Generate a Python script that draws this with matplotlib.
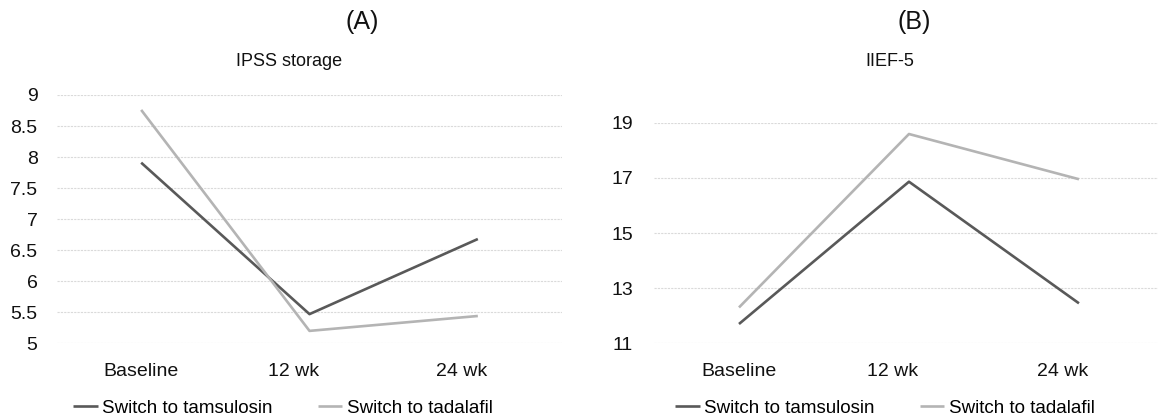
import matplotlib
matplotlib.use("Agg")
import matplotlib.pyplot as plt
import matplotlib.transforms as mtransforms

plt.rcParams['font.family'] = ['Liberation Sans', 'DejaVu Sans']

W, H = 1158, 420

# data
timepoints = ['Baseline', '12 wk', '24 wk']
ipss_tamsulosin = [7.91, 5.47, 6.68]
ipss_tadalafil = [8.76, 5.20, 5.44]
iief_tamsulosin = [11.70, 16.86, 12.45]
iief_tadalafil = [12.30, 18.59, 16.95]
ipss_ticks = [5, 5.5, 6, 6.5, 7, 7.5, 8, 8.5, 9]
ipss_ticklabels = ['5', '5.5', '6', '6.5', '7', '7.5', '8', '8.5', '9']
iief_ticks = [11, 13, 15, 17, 19]
series_names = ['Switch to tamsulosin', 'Switch to tadalafil']

DARK = '#595959'
LIGHT = '#b4b4b4'
GRID = '#dadada'


def px(x0, y0, x1, y1):
    # pixel box -> figure fraction rect
    return [x0 / W, 1 - y1 / H, (x1 - x0) / W, (y1 - y0) / H]


fig = plt.figure(figsize=(W / 100, H / 100), dpi=100)


def panel(rect, xlim, ylim, ticks, ticklabels, tam, tad, ypad, letter, lx, title, tx, legx):
    ax = fig.add_axes(rect)
    x = range(len(timepoints))
    ax.plot(x, tam, color=DARK, lw=1.9, clip_on=False, solid_capstyle='butt', label=series_names[0])
    ax.plot(x, tad, color=LIGHT, lw=1.9, clip_on=False, solid_capstyle='butt', label=series_names[1])
    ax.set_xlim(*xlim)
    ax.set_ylim(*ylim)
    ax.set_yticks(ticks)
    ax.set_yticklabels(ticklabels)
    ax.set_xticks(list(x))
    ax.set_xticklabels(timepoints)
    for t in ticks:
        ax.axhline(t, color=GRID, lw=0.8, ls=(0, (2, 1)), zorder=0)
    for s in ax.spines.values():
        s.set_visible(False)
    ax.tick_params(axis='both', length=0, labelsize=14, colors='#111111')
    ax.tick_params(axis='x', pad=14)
    ax.tick_params(axis='y', pad=ypad)
    # category labels sit a bit left of the points, like the original
    for lab, dx in zip(ax.get_xticklabels(), [0, -16, -16]):
        lab.set_transform(lab.get_transform() + mtransforms.ScaledTranslation(dx / 100, 0, fig.dpi_scale_trans))
    fig.text(lx / W, 1 - 22 / H, letter, ha='center', va='center', fontsize=18, color='#111111')
    fig.text(tx / W, 1 - 61.5 / H, title, ha='center', va='center', fontsize=13, color='#111111')
    ax.legend(loc='center', bbox_to_anchor=(legx / W, 1 - 408 / H), bbox_transform=fig.transFigure,
              ncol=2, frameon=False, fontsize=13.5, handlelength=1.3, handletextpad=0.25,
              columnspacing=2.4, borderpad=0, borderaxespad=0)
    return ax


panel(px(57, 95, 562, 343.3), (-0.5, 2.5), (5, 9), ipss_ticks, ipss_ticklabels,
      ipss_tamsulosin, ipss_tadalafil, 14, '(A)', 362, 'IPSS storage', 289, 283)
panel(px(654, 122.7, 1158, 343.3), (-0.5, 2.465), (11, 19), iief_ticks, [str(t) for t in iief_ticks],
      iief_tamsulosin, iief_tadalafil, 15, '(B)', 914, 'IIEF-5', 890, 885)

fig.savefig('out.png', dpi=100)
